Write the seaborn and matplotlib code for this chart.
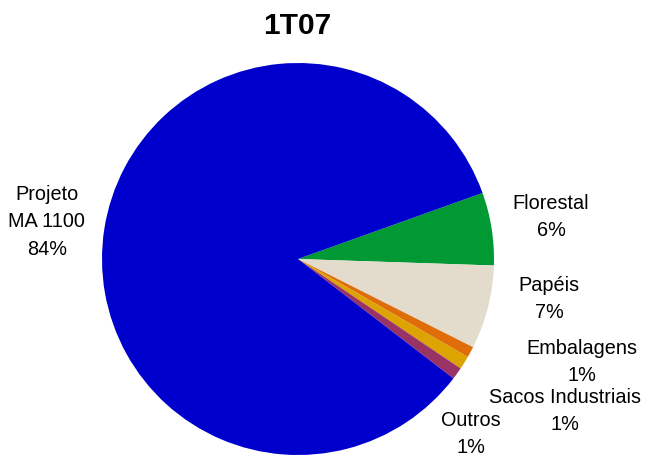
import matplotlib
matplotlib.use("Agg")
import matplotlib.pyplot as plt
import seaborn as sns

sns.set_theme(style="white")
plt.rcParams['font.family'] = ['Liberation Sans', 'DejaVu Sans']

title = "1T07"
categories = ["Florestal", "Papéis", "Embalagens", "Sacos Industriais", "Outros", "Projeto\nMA 1100"]
values = [6.0, 6.9, 0.9, 1.1, 1.0, 84.1]
pct_labels = ["6%", "7%", "1%", "1%", "1%", "84%"]
colors = ["#009933", "#E3DCCC", "#DF6D0A", "#DDA300", "#993366", "#0000CC"]
# label anchor positions in pie-radius units
label_pos = [(1.291, 0.214), (1.281, -0.204), (1.449, -0.526),
             (1.362, -0.776), (0.883, -0.893), (-1.281, 0.189)]

W, H = 646, 457
cx, cy, R = 298, 259, 196
line_gap = 27.5 / R  # vertical distance between label lines, in radius units

fig = plt.figure(figsize=(W / 100, H / 100), dpi=100)
ax = fig.add_axes([0, 0, 1, 1])
ax.pie(values, colors=colors, startangle=19.7, counterclock=False,
       radius=1.0, wedgeprops=dict(linewidth=0))
ax.set_xlim(-cx / R, (W - cx) / R)
ax.set_ylim(-(H - cy) / R, cy / R)
ax.set_aspect('equal', adjustable='box')
ax.axis('off')

for cat, pct, (x, y) in zip(categories, pct_labels, label_pos):
    lines = cat.split("\n") + [pct]
    n = len(lines)
    for i, line in enumerate(lines):
        yy = y + ((n - 1) / 2 - i) * line_gap
        ax.text(x, yy, line, ha="center", va="center",
                fontsize=14.3, color="black")

fig.text(297 / W, 1 - 26 / H, title, ha="center", va="center",
         fontsize=21.5, fontweight="bold", color="black")

fig.savefig("out.png", dpi=100)
